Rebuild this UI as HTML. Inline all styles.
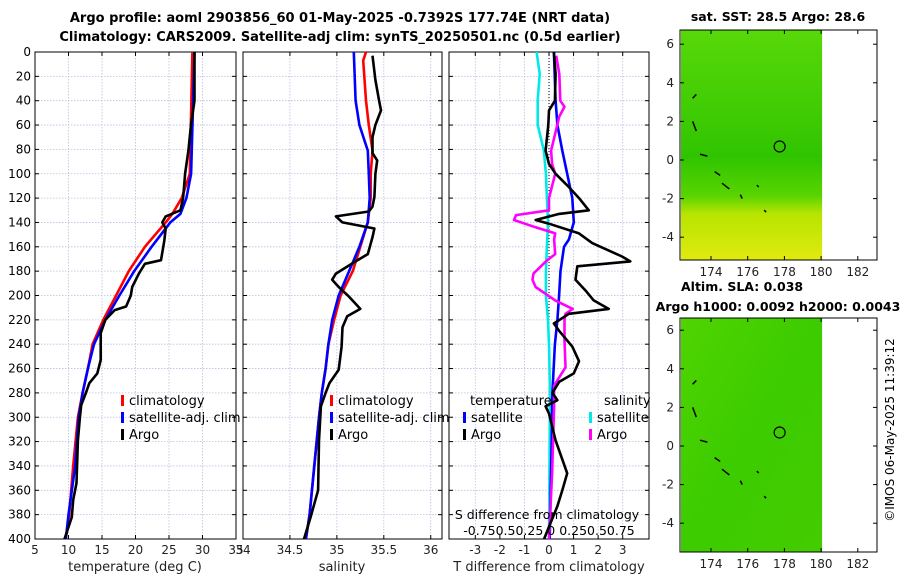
<!DOCTYPE html>
<html><head><meta charset="utf-8">
<style>
html,body{margin:0;padding:0;background:#fff;}
svg{display:block;font-family:"DejaVu Sans","Liberation Sans",sans-serif;}
</style></head>
<body>
<svg id="c" width="900" height="580" viewBox="0 0 900 580">
<defs>
<linearGradient id="sstg" x1="0" y1="0" x2="0" y2="1">
<stop offset="0" stop-color="#58d808"/><stop offset="0.35" stop-color="#40cc04"/>
<stop offset="0.55" stop-color="#30c400"/><stop offset="0.72" stop-color="#58d400"/>
<stop offset="0.8" stop-color="#b8e400"/><stop offset="1" stop-color="#e0ea10"/>
</linearGradient>
<linearGradient id="slag" x1="0" y1="0" x2="1" y2="1">
<stop offset="0" stop-color="#50d400"/><stop offset="0.5" stop-color="#3ccc00"/>
<stop offset="1" stop-color="#44cc00"/>
</linearGradient>
</defs>
<text x="340" y="22" text-anchor="middle" font-size="13" font-weight="bold">Argo profile: aoml 2903856_60 01-May-2025 -0.7392S 177.74E (NRT data)</text>
<text x="340" y="41" text-anchor="middle" font-size="13" font-weight="bold">Climatology: CARS2009. Satellite-adj clim: synTS_20250501.nc (0.5d earlier)</text>
<g id="g"></g>
<text transform="translate(894,430) rotate(-90)" text-anchor="middle" font-size="12">©IMOS 06-May-2025 11:39:12</text>
</svg>
<script>
// ---- data (depth in m, values) ----
const climTDepth=[0,100,120,133,140,160,180,200,220,240,260,280,300,340,380,400];
const climT=[28.5,28.1,26.9,25.5,24.5,21.4,19.0,17.1,15.2,13.6,12.9,12.1,11.4,10.7,10.1,9.6];
const satT=[28.8,28.3,27.6,26.7,25.2,22.4,19.8,17.6,15.5,13.8,12.9,12.1,11.5,11.0,10.0,9.6];
const argoTDepth=[0,40,59,81,100,120,130,135,140,145,155,171,174,182,193,200,209,212,220,231,253,264,272,280,290,300,319,354,368,382,400];
const argoT=[28.8,28.8,28.3,27.9,27.4,27.1,26.7,24.5,24.0,24.5,24.3,23.8,21.4,20.5,19.5,19.3,18.6,16.9,15.5,14.8,14.8,14.3,13.1,12.6,11.9,11.7,11.4,11.2,10.7,10.5,9.4];

const climSDepth=[0,7,40,60,81,100,120,140,160,180,200,220,240,260,280,300,340,380,400];
const climS=[35.31,35.28,35.31,35.34,35.38,35.36,35.36,35.33,35.25,35.17,35.04,34.97,34.91,34.88,34.84,34.81,34.76,34.71,34.67];
const satSDepth=[0,40,60,81,100,120,140,160,180,200,220,240,260,280,300,340,380,400];
const satS=[35.18,35.20,35.24,35.33,35.34,35.35,35.33,35.24,35.13,35.02,34.95,34.91,34.88,34.84,34.81,34.76,34.71,34.67];
const argoSDepth=[3,23,40,48,60,70,83,89,100,119,127,131,135,140,145,152,166,172,182,187,193,201,211,217,226,242,261,272,280,291,319,360,382,400];
const argoS=[35.38,35.41,35.45,35.47,35.41,35.38,35.38,35.43,35.41,35.40,35.38,35.34,34.99,35.06,35.40,35.38,35.33,35.20,34.99,34.95,35.02,35.13,35.25,35.11,35.06,35.05,35.02,34.92,34.88,34.83,34.81,34.80,34.72,34.65];

const dTsatDepth=[0,40,60,81,100,120,140,154,160,180,200,220,240,280,319,400];
const dTsat=[0.20,0.27,0.34,0.54,0.74,0.95,1.01,0.81,0.61,0.47,0.41,0.34,0.24,0.14,0.11,0.03];
const dSsatDepth=[0,18,40,60,81,100,120,140,160,180,200,220,240,280,400];
const dSsat=[-0.12,-0.09,-0.11,-0.11,-0.05,-0.03,-0.02,-0.01,-0.02,-0.03,-0.03,-0.01,0,0.01,0];
const dSargoDepth=[3,18,40,45,53,67,81,92,100,120,130,134,138,144,149,154,166,172,182,187,193,204,211,215,220,237,259,274,291,346,400];
const dSargo=[0.07,0.10,0.11,0.15,0.10,0.06,0.02,0.03,0.06,0,0,-0.32,-0.34,-0.13,0.06,0.05,0.06,-0.03,-0.15,-0.16,-0.13,0.06,0.23,0.16,0.15,0.15,0.16,0.05,0.05,0.03,0];
const dTargoDepth=[0,18,40,48,60,81,92,100,111,120,130,133,138,141,149,157,168,172,176,187,196,204,211,215,223,229,242,254,264,271,280,286,291,297,319,346,360,373,390,400];
const dTargo=[0.20,0.27,0.24,0,-0.03,-0.14,0,0.27,0.81,1.22,1.62,0.41,-0.54,0,1.22,1.76,2.97,3.31,1.15,1.08,1.49,1.82,2.43,0.81,0.20,0.41,0.95,1.22,1.01,0.41,0.14,0.34,-0.14,0,0.27,0.74,0.54,0.34,0,-0.20];

const depthTicks=[0,20,40,60,80,100,120,140,160,180,200,220,240,260,280,300,320,340,360,380,400];
const tTicks=[5,10,15,20,25,30,35];
const sTicks=[34,34.5,35,35.5,36];
const dTTicks=[-3,-2,-1,0,1,2,3];
const sstLatTicks=[6,4,2,0,-2,-4];
const lonTicks=[174,176,178,180,182];

const NS='http://www.w3.org/2000/svg';
const G=document.getElementById('g');
function mk(tag,at,parent){const e=document.createElementNS(NS,tag);for(const k in at)e.setAttribute(k,at[k]);(parent||G).appendChild(e);return e;}

const Y0=52,Y1=539;
const yD=d=>Y0+(d/400)*(Y1-Y0);
const panels=[
 {x0:35,x1:236,lo:5,hi:35,ticks:tTicks,name:'temperature'},
 {x0:243,x1:442,lo:34,hi:36.12,ticks:sTicks,name:'salinity'},
 {x0:449,x1:649,lo:-4.07,hi:4.07,ticks:dTTicks,name:'difference'}];
const xs=(p,v)=>p.x0+(v-p.lo)/(p.hi-p.lo)*(p.x1-p.x0);
const xS3=v=>549+v*103;

panels.forEach((p,i)=>{
 const ax=mk('g',{});
 
 
 depthTicks.forEach(d=>{
  const l=mk('line',{x1:p.x0,x2:p.x1,y1:yD(d),y2:yD(d),stroke:'#b8c0e0','stroke-width':0.8,'stroke-dasharray':'1.5,1.5'},ax);
  
  mk('line',{x1:p.x0,x2:p.x0+4,y1:yD(d),y2:yD(d),stroke:'#000'},ax);
  mk('line',{x1:p.x1,x2:p.x1-4,y1:yD(d),y2:yD(d),stroke:'#000'},ax);
  if(i===0){const t=mk('text',{x:p.x0-4,y:yD(d)+4,'text-anchor':'end','font-size':12},ax);t.textContent=d;
   }
 });
 p.ticks.forEach(v=>{
  const x=xs(p,v);
  mk('line',{x1:x,x2:x,y1:Y0,y2:Y1,stroke:'#b8c0e0','stroke-width':0.8,'stroke-dasharray':'1.5,1.5'},ax);
  mk('line',{x1:x,x2:x,y1:Y1,y2:Y1-4,stroke:'#000'},ax);
  mk('line',{x1:x,x2:x,y1:Y0,y2:Y0+4,stroke:'#000'},ax);
  const t=mk('text',{x:x,y:554,'text-anchor':'middle','font-size':12,fill:'#222'},ax);t.textContent=v;
  
 });
 const b=mk('rect',{x:p.x0,y:Y0,width:p.x1-p.x0,height:Y1-Y0,fill:'none',stroke:'#000'},ax);
 
});

function line(xf,vals,deps,color,name){
 const pts=vals.map((v,k)=>xf(v).toFixed(1)+','+yD(deps[k]).toFixed(1)).join(' ');
 const e=mk('polyline',{points:pts,fill:'none',stroke:color,'stroke-width':2.6,'stroke-linejoin':'round'});
 
 
}
const P=panels;
line(v=>xs(P[0],v),climT,climTDepth,'#f00','temp-climatology-line');
line(v=>xs(P[0],v),satT,climTDepth,'#00f','temp-satellite-line');
line(v=>xs(P[0],v),argoT,argoTDepth,'#000','temp-argo-line');
line(v=>xs(P[1],v),climS,climSDepth,'#f00','sal-climatology-line');
line(v=>xs(P[1],v),satS,satSDepth,'#00f','sal-satellite-line');
line(v=>xs(P[1],v),argoS,argoSDepth,'#000','sal-argo-line');
const zl=mk('line',{x1:549,x2:549,y1:Y0,y2:Y1,stroke:'#000','stroke-width':1,'stroke-dasharray':'1,2'});

line(xS3,dSsat,dSsatDepth,'#00e8e8','sdiff-satellite-line');
line(v=>xs(P[2],v),dTsat,dTsatDepth,'#00f','tdiff-satellite-line');
line(xS3,dSargo,dSargoDepth,'#f0f','sdiff-argo-line');
line(v=>xs(P[2],v),dTargo,dTargoDepth,'#000','tdiff-argo-line');

function txt(x,y,s,size,name,extra){const t=mk('text',Object.assign({x:x,y:y,'font-size':size},extra||{}));t.textContent=s;
 return t;}
function leg(x,y,color,label,name){
 const r=mk('rect',{x:x,y:y-10,width:3,height:11,fill:color});
 
 txt(x+8,y,label,13,name);
}
[[35+86,'p1'],[243+87,'p2']].forEach(([lx,k])=>{
 leg(lx,405,'#f00','climatology',k+'-legend-climatology');
 leg(lx,422,'#00f','satellite-adj. clim',k+'-legend-satellite');
 leg(lx,439,'#000','Argo',k+'-legend-argo');
});
txt(470,405,'temperature',13,'legend-temperature-header');
txt(604,405,'salinity',13,'legend-salinity-header');
leg(463,422,'#00f','satellite','legend-temp-satellite');
leg(463,439,'#000','Argo','legend-temp-argo');
leg(589,422,'#00e8e8','satellite','legend-sal-satellite');
leg(589,439,'#f0f','Argo','legend-sal-argo');
txt(547,519,'S difference from climatology',12.5,'s-diff-axis-title',{'text-anchor':'middle'});
txt(549,535,'-0.750.50.25 0  0.250.50.75',12.5,'s-diff-tick-labels',{'text-anchor':'middle'});
txt(135,571,'temperature (deg C)',13,'x-axis-title-temperature',{'text-anchor':'middle',fill:'#222'});
txt(342,571,'salinity',13,'x-axis-title-salinity',{'text-anchor':'middle',fill:'#222'});
txt(549,571,'T difference from climatology',13,'x-axis-title-tdiff',{'text-anchor':'middle',fill:'#222'});

// ---- maps ----
const MX0=680,MX1=877;
const lonX=l=>711+(l-174)*18.35;
function map(top,bot,lat0,fill,name){
 const latY=l=>lat0-l*19.3;
 const g=mk('g',{});
 
 const f=mk('rect',{x:MX0+1,y:top,width:lonX(180)-MX0,height:bot-top,fill:fill},g);
 
 mk('rect',{x:MX0,y:top,width:MX1-MX0,height:bot-top,fill:'none',stroke:'#000'},g);
 sstLatTicks.forEach(l=>{const y=latY(l);
  mk('line',{x1:MX0,x2:MX0+4,y1:y,y2:y,stroke:'#000'},g);
  mk('line',{x1:MX1,x2:MX1-4,y1:y,y2:y,stroke:'#000'},g);
  const t=mk('text',{x:MX0-6,y:y+4,'text-anchor':'end','font-size':12,fill:'#222'},g);t.textContent=l;
  });
 lonTicks.forEach(l=>{const x=lonX(l);
  mk('line',{x1:x,x2:x,y1:bot,y2:bot-4,stroke:'#000'},g);
  mk('line',{x1:x,x2:x,y1:top,y2:top+4,stroke:'#000'},g);
  const t=mk('text',{x:x,y:bot+16,'text-anchor':'middle','font-size':12,fill:'#222'},g);t.textContent=l;
  });
 const coast=[[173.0,3.2,173.2,3.4],[173.0,2.0,173.2,1.5],[173.4,0.3,173.8,0.2],[174.2,-0.6,174.5,-0.8],[174.6,-1.2,175.0,-1.5],[175.6,-1.8,175.7,-2.0],[176.5,-1.3,176.6,-1.4],[176.9,-2.6,177.0,-2.7]];
 coast.forEach(c=>mk('line',{x1:lonX(c[0]),y1:latY(c[1]),x2:lonX(c[2]),y2:latY(c[3]),stroke:'#000','stroke-width':1.5},g));
 const ci=mk('circle',{cx:lonX(177.74),cy:latY(0.7),r:5.5,fill:'none',stroke:'#000','stroke-width':1.2},g);
 
}
map(30,260,160,'url(#sstg)','sst-map');
map(318,552,446,'url(#slag)','sla-map');
txt(778,21,'sat. SST: 28.5 Argo: 28.6',12.5,'sst-map-title',{'text-anchor':'middle','font-weight':'bold'});
txt(681,291,'Altim. SLA: 0.038',12.5,'sla-map-title',{'font-weight':'bold'});
txt(778,311,'Argo h1000: 0.0092 h2000: 0.0043',12.5,'sla-argo-heights',{'text-anchor':'middle','font-weight':'bold'});
</script>
</body></html>
